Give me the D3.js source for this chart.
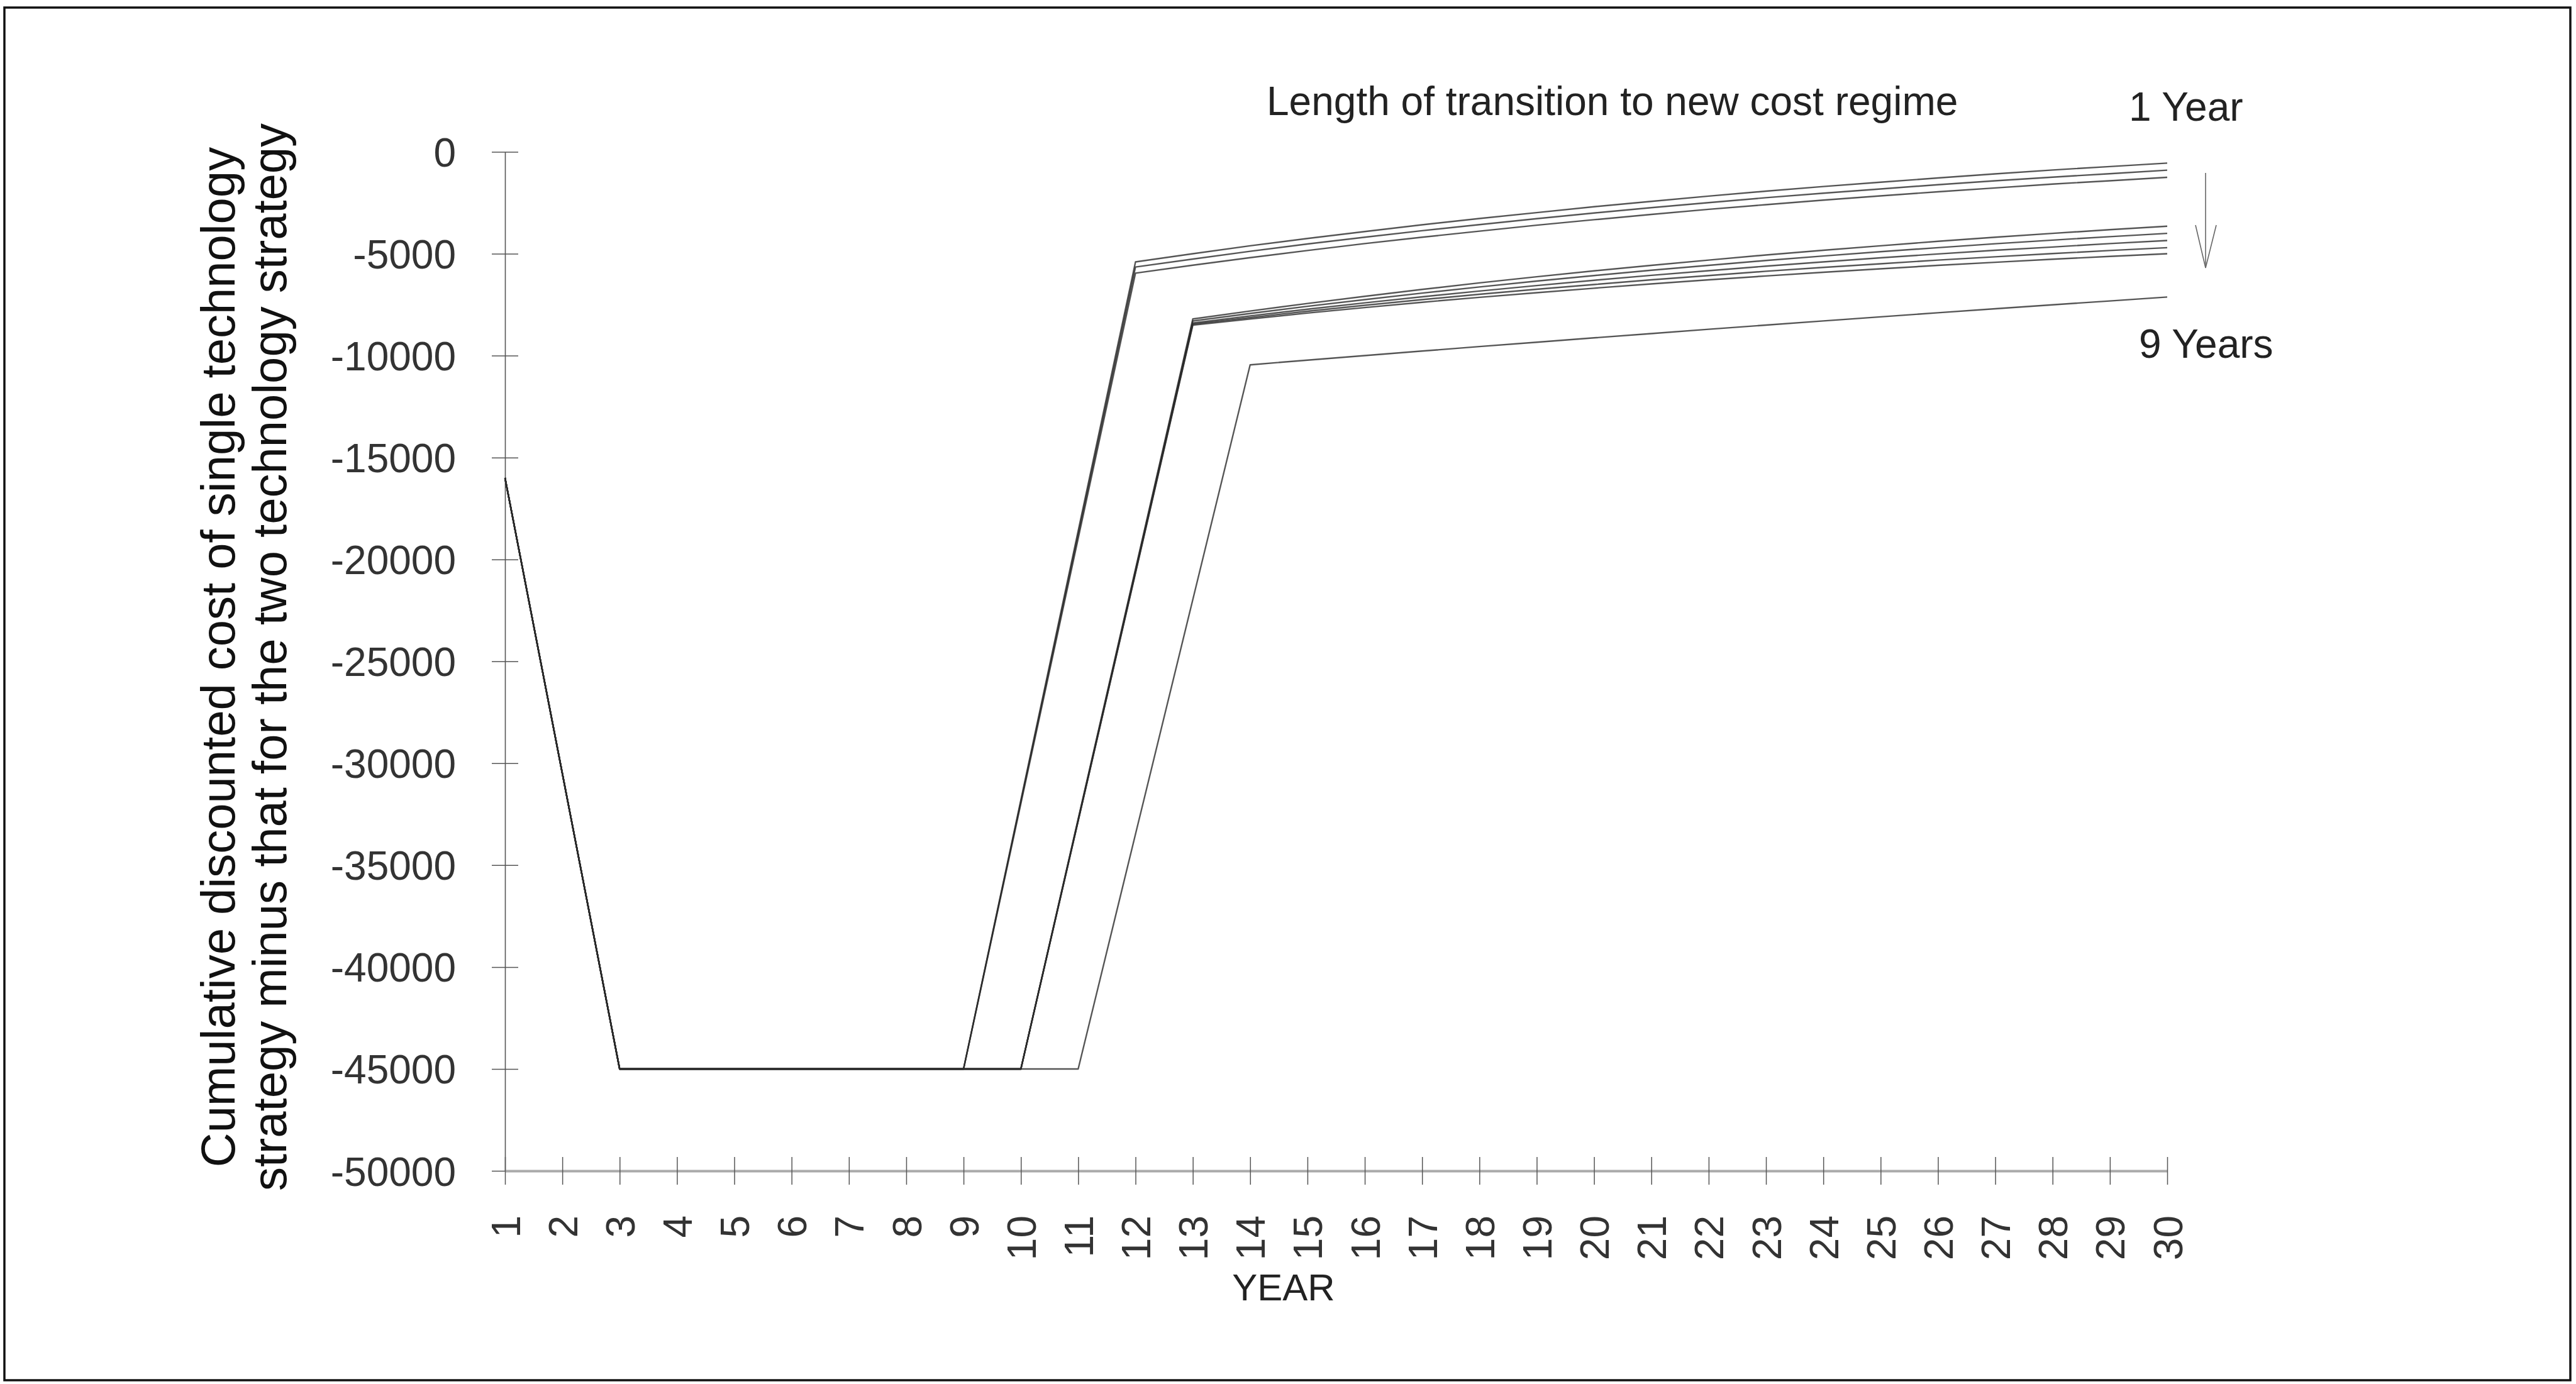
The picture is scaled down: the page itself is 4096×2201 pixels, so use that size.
<!DOCTYPE html>
<html><head><meta charset="utf-8">
<script src="https://cdn.jsdelivr.net/npm/d3@7"></script>
<style>html,body{margin:0;padding:0;background:#fff;overflow:hidden}</style>
</head><body><svg id="c" width="4096" height="2201"></svg>
<script>
// ---- data ----
const years = ["1","2","3","4","5","6","7","8","9","10","11","12","13","14","15","16","17","18","19","20","21","22","23","24","25","26","27","28","29","30"];
const yTickValues = [0,-5000,-10000,-15000,-20000,-25000,-30000,-35000,-40000,-45000,-50000];
const seriesNames = ["1 Year","2 Years","3 Years","4 Years","5 Years","6 Years","7 Years","8 Years","9 Years"];
const transition1 = [-16000,-30500,-45000,-45000,-45000,-45000,-45000,-45000,-45000,-31800,-18600,-5400,-5000,-4610,-4250,-3910,-3580,-3270,-2980,-2690,-2430,-2170,-1930,-1700,-1490,-1280,-1080,-890,-720,-550];
const transition2 = [-16000,-30500,-45000,-45000,-45000,-45000,-45000,-45000,-45000,-31880,-18770,-5650,-5260,-4880,-4520,-4190,-3870,-3570,-3280,-3000,-2740,-2490,-2250,-2030,-1820,-1610,-1420,-1240,-1070,-900];
const transition3 = [-16000,-30500,-45000,-45000,-45000,-45000,-45000,-45000,-45000,-31980,-18970,-5950,-5560,-5190,-4840,-4500,-4190,-3890,-3600,-3330,-3070,-2820,-2590,-2370,-2160,-1960,-1770,-1580,-1420,-1250];
const transition4 = [-16000,-30500,-45000,-45000,-45000,-45000,-45000,-45000,-45000,-45000,-32730,-20470,-8200,-7810,-7440,-7090,-6750,-6430,-6130,-5840,-5570,-5310,-5060,-4830,-4610,-4390,-4190,-4000,-3820,-3650];
const transition5 = [-16000,-30500,-45000,-45000,-45000,-45000,-45000,-45000,-45000,-45000,-32770,-20530,-8300,-7930,-7580,-7250,-6930,-6630,-6340,-6070,-5810,-5570,-5330,-5110,-4900,-4700,-4510,-4330,-4160,-4000];
const transition6 = [-16000,-30500,-45000,-45000,-45000,-45000,-45000,-45000,-45000,-45000,-32800,-20600,-8400,-8050,-7720,-7410,-7110,-6830,-6560,-6300,-6060,-5830,-5610,-5400,-5200,-5010,-4830,-4670,-4500,-4350];
const transition7 = [-16000,-30500,-45000,-45000,-45000,-45000,-45000,-45000,-45000,-45000,-32820,-20630,-8450,-8130,-7820,-7530,-7250,-6990,-6740,-6510,-6280,-6070,-5860,-5670,-5490,-5310,-5150,-4990,-4840,-4700];
const transition8 = [-16000,-30500,-45000,-45000,-45000,-45000,-45000,-45000,-45000,-45000,-32830,-20670,-8500,-8200,-7910,-7640,-7380,-7140,-6910,-6690,-6480,-6280,-6090,-5910,-5740,-5570,-5420,-5270,-5130,-5000];
const transition9 = [-16000,-30500,-45000,-45000,-45000,-45000,-45000,-45000,-45000,-45000,-45000,-33480,-21970,-10450,-10220,-9995,-9775,-9555,-9340,-9125,-8915,-8705,-8500,-8295,-8095,-7895,-7700,-7505,-7315,-7125];
const yTitleLines = ["Cumulative discounted cost of single technology","strategy minus that for the two technology strategy"];
const xTitle = "YEAR";
const legendTitle = "Length of transition to new cost regime";

const series = [transition1,transition2,transition3,transition4,transition5,transition6,transition7,transition8,transition9];

// ---- drawing ----
const FONT = "'Liberation Sans', Arial, Helvetica, sans-serif";
const svg = d3.select("#c");
svg.append("rect").attr("x",0).attr("y",0).attr("width",4096).attr("height",2201).attr("fill","#fff");
svg.append("rect").attr("x",7).attr("y",12).attr("width",4080).attr("height",2183)
  .attr("fill","none").attr("stroke","#111").attr("stroke-width",3.5);

const x = d3.scalePoint().domain(years).range([803, 3446]).padding(0);
const y = d3.scaleLinear().domain([-50000, 0]).range([1862, 241.5]);

// y axis
const yAxis = svg.append("g").attr("transform", `translate(${x(years[0])},0)`)
  .call(d3.axisLeft(y).tickValues(yTickValues).tickFormat(d => String(d)).tickSize(0).tickPadding(0));
yAxis.select(".domain").attr("stroke","#555").attr("stroke-width",1.6);
yAxis.selectAll(".tick line").attr("x1",-21).attr("x2",21).attr("stroke","#555").attr("stroke-width",1.5);
yAxis.selectAll(".tick text").attr("x",-78).attr("dy","0.36em")
  .attr("font-family",FONT).attr("font-size",64).attr("fill","#333").attr("text-anchor","end");

// x axis
const xAxis = svg.append("g").attr("transform", `translate(0,${y(-50000)})`)
  .call(d3.axisBottom(x).tickSize(0).tickPadding(0));
xAxis.select(".domain").attr("stroke","#aaa").attr("stroke-width",4);
xAxis.selectAll(".tick line").attr("y1",-22).attr("y2",22).attr("stroke","#555").attr("stroke-width",1.5);
xAxis.selectAll(".tick text").attr("transform","rotate(-90)").attr("text-anchor","end")
  .attr("x",-71).attr("y",0).attr("dy","0.36em")
  .attr("font-family",FONT).attr("font-size",64).attr("fill","#333");

// lines
const line = d3.line().x((d,i) => x(years[i])).y(d => y(d));
svg.append("g").selectAll("path").data(series).join("path")
  .attr("d", line).attr("fill","none").attr("stroke","#2a2a2a")
  .attr("stroke-opacity",0.8).attr("stroke-width",2.4).attr("stroke-linejoin","round");

// y title
const yt = svg.append("g").attr("font-family",FONT).attr("font-size",76).attr("fill","#111");
yt.selectAll("text").data(yTitleLines).join("text")
  .attr("transform",(d,i) => `translate(${373 + i*82},1045) rotate(-90)`)
  .attr("text-anchor","middle").text(d => d);

// x title
svg.append("text").attr("x",2041).attr("y",2068).attr("text-anchor","middle")
  .attr("font-family",FONT).attr("font-size",60).attr("fill","#222").text(xTitle);

// legend annotation
svg.append("text").attr("x",2014).attr("y",183)
  .attr("font-family",FONT).attr("font-size",64).attr("fill","#222").text(legendTitle);
svg.append("text").attr("x",3385).attr("y",192)
  .attr("font-family",FONT).attr("font-size",64).attr("fill","#222").text(seriesNames[0]);
svg.append("text").attr("x",3401).attr("y",569)
  .attr("font-family",FONT).attr("font-size",64).attr("fill","#222").text(seriesNames[8]);

// arrow
const ag = svg.append("g").attr("stroke","#666").attr("stroke-width",1.6).attr("fill","none");
ag.append("line").attr("x1",3507).attr("y1",275).attr("x2",3507).attr("y2",426);
ag.append("path").attr("d","M3491,358 L3507,426 L3524,358");
</script></body></html>
